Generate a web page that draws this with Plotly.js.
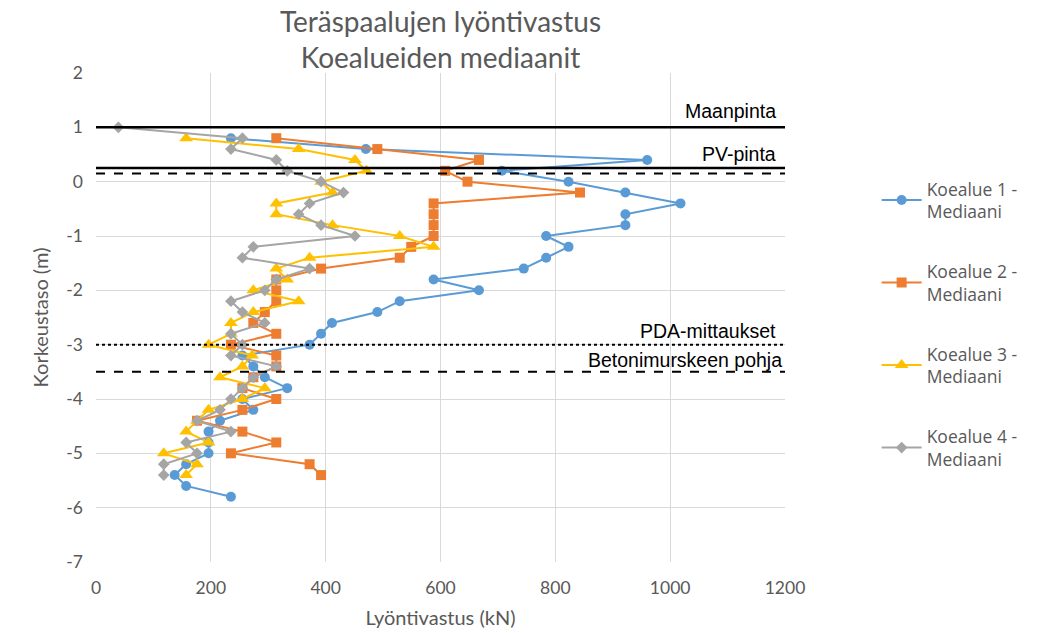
<!DOCTYPE html>
<html>
<head>
<meta charset="utf-8">
<script src="https://cdn.plot.ly/plotly-3.0.1.min.js"></script>
<style>html,body{margin:0;padding:0;background:#fff;}#chart{width:1045px;height:633px;}</style>
</head>
<body>
<div id="chart"></div>
<script>
// Depth levels (m) and median driving resistance (kN) per test area
const depth1 = [0.8,0.6,0.4,0.2,0,-0.2,-0.4,-0.6,-0.8,-1.0,-1.2,-1.4,-1.6,-1.8,-2.0,-2.2,-2.4,-2.6,-2.8,-3.0,-3.2,-3.4,-3.6,-3.8,-4.0,-4.2,-4.4,-4.6,-4.8,-5.0,-5.2,-5.4,-5.6,-5.8];
const koealue1 = [235,470,960,707,823,922,1018,922,922,784,823,784,745,588,667,529,490,411,392,372,255,274,294,333,255,274,216,196,196,196,157,137,157,235];

const depth2 = [0.8,0.6,0.4,0.2,0,-0.2,-0.4,-0.6,-0.8,-1.0,-1.2,-1.4,-1.6,-1.8,-2.0,-2.2,-2.4,-2.6,-2.8,-3.0,-3.2,-3.4,-3.6,-3.8,-4.0,-4.2,-4.4,-4.6,-4.8,-5.0,-5.2,-5.4];
const koealue2 = [314,490,667,608,647,843,588,588,588,588,549,529,392,314,314,314,294,274,314,235,314,314,274,255,314,255,176,255,314,235,372,392];

const depth3 = [0.8,0.6,0.4,0.2,0,-0.2,-0.4,-0.6,-0.8,-1.0,-1.2,-1.4,-1.6,-1.8,-2.0,-2.2,-2.4,-2.6,-2.8,-3.0,-3.2,-3.4,-3.6,-3.8,-4.0,-4.2,-4.4,-4.6,-4.8,-5.0,-5.2,-5.4];
const koealue3 = [157,353,451,471,392,412,314,314,412,529,588,372,314,333,274,353,274,235,235,196,272,255,216,294,255,196,176,157,196,118,176,157];

const depth4 = [1.0,0.8,0.6,0.4,0.2,0,-0.2,-0.4,-0.6,-0.8,-1.0,-1.2,-1.4,-1.6,-1.8,-2.0,-2.2,-2.4,-2.6,-2.8,-3.0,-3.2,-3.4,-3.6,-3.8,-4.0,-4.2,-4.4,-4.6,-4.8,-5.0,-5.2,-5.4];
const koealue4 = [39,255,235,314,333,392,431,372,353,392,451,274,255,372,314,294,235,255,294,235,255,235,314,274,255,235,216,176,235,157,176,118,118];

const seriesNames = ["Koealue 1 -<br>Mediaani","Koealue 2 -<br>Mediaani","Koealue 3 -<br>Mediaani","Koealue 4 -<br>Mediaani"];

// Reference levels (m)
const refNames = ["Maanpinta","PV-pinta","","PDA-mittaukset","Betonimurskeen pohja"];
const refLevels = [1.0, 0.25, 0.15, -3.0, -3.5];

const xTicks = [0,200,400,600,800,1000,1200];
const yTicks = [2,1,0,-1,-2,-3,-4,-5,-6,-7];

const colors = ["#5B9BD5","#ED7D31","#FFC000","#A5A5A5"];
const symbols = ["circle","square","triangle-up","diamond"];
const sizes = [10,10,12,9];
const xs = [koealue1,koealue2,koealue3,koealue4];
const ys = [depth1,depth2,depth3,depth4];

const traces = xs.map((x,i)=>({
  type:"scatter", mode:"lines+markers", x:x, y:ys[i], name:seriesNames[i],
  legendgroup:"g"+i,
  line:{color:colors[i], width:2},
  marker:{color:colors[i], symbol:symbols[i], size:sizes[i]}
}));

const lineStyles = [
  {dash:"solid", width:2.5},
  {dash:"solid", width:2.5},
  {dash:"dash", width:2},
  {dash:"dot", width:2},
  {dash:"dash", width:2}
];
const shapes = refLevels.map((lv,i)=>({
  type:"line", xref:"paper", x0:0, x1:1, yref:"y", y0:lv, y1:lv,
  line:{color:"#000", width:lineStyles[i].width, dash:lineStyles[i].dash}, layer:"above"
}));
const yshifts = [3,1,0,1,-1];
const annotations = refLevels.map((lv,i)=>refNames[i]?({
  xref:"paper", x:(i===4?0.998:0.99), xanchor:"right", yref:"y", y:lv, yanchor:"bottom", yshift:yshifts[i],
  text:refNames[i], showarrow:false,
  font:{family:"Liberation Sans, Arial, sans-serif", size:19.5, color:"#000"}
}):null).filter(a=>a);

const tickFont = {family:"Lato, sans-serif", size:17.5, color:"#595959"};
const layout = {
  width:1045, height:633,
  margin:{l:96, r:260, t:73, b:71},
  paper_bgcolor:"#fff", plot_bgcolor:"#fff",
  title:{text:"Teräspaalujen lyöntivastus<br>Koealueiden mediaanit", x:0.4215, xanchor:"center",
    yref:"container", y:1-32/633, yanchor:"middle",
    font:{family:"Lato, sans-serif", size:28, color:"#595959"}},
  xaxis:{range:[0,1200], tickvals:xTicks, ticktext:xTicks.map(String), showgrid:true, gridcolor:"#D9D9D9", gridwidth:1,
    zeroline:false, showline:false, ticks:"", tickfont:tickFont, ticklabelstandoff:13,
    title:{text:"Lyöntivastus (kN)", font:{family:"Lato, sans-serif", size:20, color:"#595959"}, standoff:14}},
  yaxis:{range:[-7,2], tickvals:yTicks, ticktext:yTicks.map(String), showgrid:true, gridcolor:"#D9D9D9", gridwidth:1,
    zeroline:false, showline:false, ticks:"", tickfont:tickFont, ticklabelstandoff:12,
    title:{text:"Korkeustaso (m)", font:{family:"Lato, sans-serif", size:20, color:"#595959"}, standoff:12}},
  shapes:shapes, annotations:annotations,
  showlegend:true,
  legend:{x:1.133, xanchor:"left", y:0.8, yanchor:"top", traceorder:"grouped", tracegroupgap:34,
    font:{family:"Open Sans, sans-serif", size:17.5, color:"#595959"}, itemwidth:40, bgcolor:"rgba(0,0,0,0)"}
};
Plotly.newPlot("chart", traces, layout, {staticPlot:true, displayModeBar:false});
</script>
</body>
</html>
